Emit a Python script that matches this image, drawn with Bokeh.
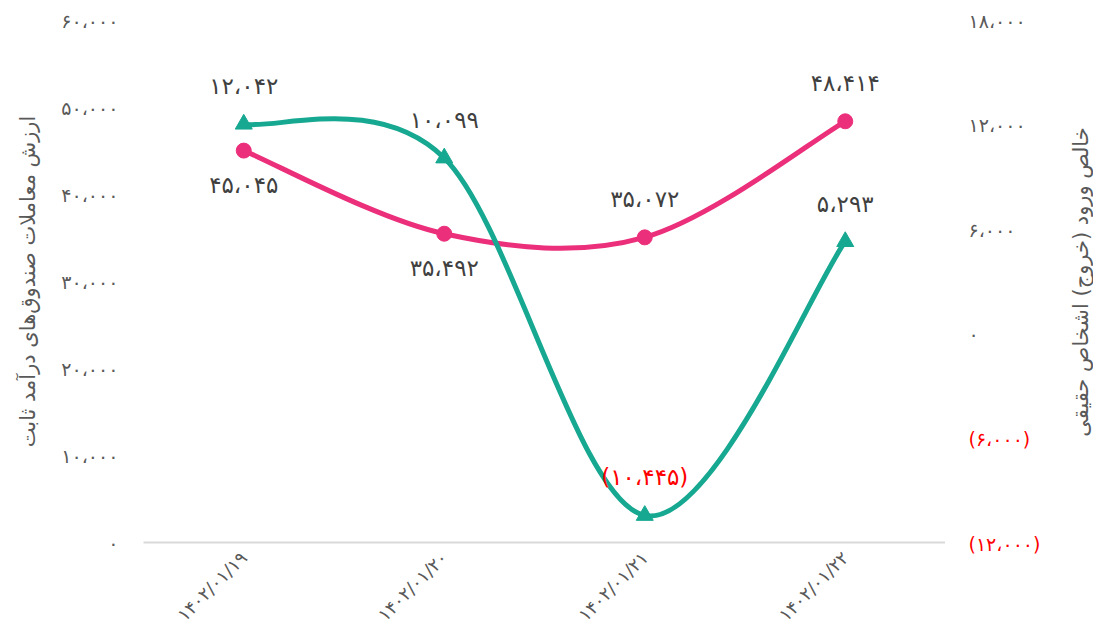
import math
from bokeh.plotting import figure
from bokeh.layouts import row
from bokeh.models import Range1d, FixedTicker, ColumnDataSource
from bokeh.core.properties import value
from bokeh.embed import file_html
from bokeh.resources import INLINE

# ---------------- data ----------------
categories = ["۱۴۰۲/۰۱/۱۹", "۱۴۰۲/۰۱/۲۰", "۱۴۰۲/۰۱/۲۱", "۱۴۰۲/۰۱/۲۲"]
value_traded = [45045, 35492, 35072, 48414]          # left axis (pink)
net_flow = [12042, 10099, -10445, 5293]              # right axis (teal)

left_ticks = [0, 10000, 20000, 30000, 40000, 50000, 60000]
left_tick_labels = ["۰", "۱۰،۰۰۰", "۲۰،۰۰۰", "۳۰،۰۰۰", "۴۰،۰۰۰", "۵۰،۰۰۰", "۶۰،۰۰۰"]
right_ticks = [-12000, -6000, 0, 6000, 12000, 18000]
right_tick_labels = ["(۱۲،۰۰۰)", "(۶،۰۰۰)", "۰", "۶،۰۰۰", "۱۲،۰۰۰", "۱۸،۰۰۰"]

left_title = "ارزش معاملات صندوق\u200cهای درآمد ثابت"
right_title = "خالص ورود (خروج) اشخاص حقیقی"

FA = str.maketrans("0123456789,", "۰۱۲۳۴۵۶۷۸۹،")


def fa_num(v):
    s = f"{abs(v):,}".translate(FA)
    return f"({s})" if v < 0 else s


FONT = "DejaVu Sans"
GRAY = "#595959"
DARK = "#404040"
PINK = "#EC2F7B"
TEAL = "#16A891"
RED = "#FF0000"
TICK_FS = "19px"

xs = [i + 0.5 for i in range(len(categories))]

# layout (pixels)
H, BT, BB = 635, 20, 92
W_MAIN, BL = 945, 143
W_SIDE = 148

p = figure(width=W_MAIN, height=H, x_range=Range1d(0, len(categories)),
           y_range=Range1d(left_ticks[0], left_ticks[-1]),
           output_backend="svg", toolbar_location=None,
           min_border_left=BL, min_border_right=0,
           min_border_top=BT, min_border_bottom=BB)
p.frame_align = False
p.extra_y_ranges = {"right": Range1d(right_ticks[0], right_ticks[-1])}
p.outline_line_color = None
p.xgrid.visible = False
p.ygrid.visible = False
p.background_fill_color = "white"
p.border_fill_color = "white"

# x axis
xa = p.xaxis[0]
xa.ticker = FixedTicker(ticks=xs)
xa.major_label_overrides = {x: c for x, c in zip(xs, categories)}
xa.major_label_orientation = math.pi / 4
xa.axis_line_color = "#D9D9D9"
xa.axis_line_width = 2
xa.major_tick_line_color = None
xa.major_tick_out = 0
xa.major_tick_in = 0
xa.minor_tick_line_color = None
xa.major_label_text_font = FONT
xa.major_label_text_font_size = "18px"
xa.major_label_text_color = GRAY
xa.major_label_standoff = 12

# left axis
ya = p.yaxis[0]
ya.ticker = FixedTicker(ticks=left_ticks)
ya.major_label_overrides = {t: l for t, l in zip(left_ticks, left_tick_labels)}
ya.axis_line_color = None
ya.major_tick_line_color = None
ya.major_tick_out = 0
ya.major_tick_in = 0
ya.minor_tick_line_color = None
ya.major_label_text_font = FONT
ya.major_label_text_font_size = TICK_FS
ya.major_label_text_color = GRAY
ya.major_label_standoff = 25
ya.axis_label = left_title
ya.axis_label_text_font = FONT
ya.axis_label_text_font_size = "21px"
ya.axis_label_text_font_style = "normal"
ya.axis_label_text_color = GRAY
ya.axis_label_standoff = 18


def smooth(xv, yv):
    n = len(xv)
    d = dict(x0=[], y0=[], x1=[], y1=[], cx0=[], cy0=[], cx1=[], cy1=[])
    for i in range(n - 1):
        a = i - 1 if i > 0 else i
        b = i + 2 if i + 2 < n else i + 1
        d["x0"].append(xv[i]); d["y0"].append(yv[i])
        d["x1"].append(xv[i + 1]); d["y1"].append(yv[i + 1])
        d["cx0"].append(xv[i] + (xv[i + 1] - xv[a]) / 6)
        d["cy0"].append(yv[i] + (yv[i + 1] - yv[a]) / 6)
        d["cx1"].append(xv[i + 1] - (xv[b] - xv[i]) / 6)
        d["cy1"].append(yv[i + 1] - (yv[b] - yv[i]) / 6)
    return ColumnDataSource(d)


# pink series (left axis)
p.bezier(x0="x0", y0="y0", x1="x1", y1="y1", cx0="cx0", cy0="cy0", cx1="cx1", cy1="cy1",
         source=smooth(xs, value_traded), line_color=PINK, line_width=5, line_cap="round")
p.scatter(xs, value_traded, marker="circle", size=15, fill_color=PINK, line_color=PINK)

# teal series (right axis)
p.bezier(x0="x0", y0="y0", x1="x1", y1="y1", cx0="cx0", cy0="cy0", cx1="cx1", cy1="cy1",
         source=smooth(xs, net_flow), line_color=TEAL, line_width=5, line_cap="round",
         y_range_name="right")
p.scatter(xs, net_flow, marker="triangle", size=17, fill_color=TEAL, line_color=TEAL,
          y_range_name="right")

# data labels
pink_pos = ["below", "below", "above", "above"]
pink_src = ColumnDataSource(dict(
    x=xs, y=value_traded, t=[fa_num(v) for v in value_traded],
    off=[34 if s == "below" else -38 for s in pink_pos]))
p.text(x="x", y="y", text="t", y_offset="off", source=pink_src,
       text_font=value(FONT), text_font_size="23px", text_color=DARK,
       text_align="center", text_baseline="middle")

teal_src = ColumnDataSource(dict(
    x=xs, y=net_flow, t=[fa_num(v) for v in net_flow],
    c=[RED if v < 0 else DARK for v in net_flow]))
p.text(x="x", y="y", text="t", y_offset=-38, source=teal_src, y_range_name="right",
       text_font=value(FONT), text_font_size="23px", text_color="c",
       text_align="center", text_baseline="middle")

# ---------------- right-hand axis panel ----------------
# same vertical scale as the main plot's "right" range, extended over the borders
r0, r1 = right_ticks[0], right_ticks[-1]
upp = (r1 - r0) / (H - BT - BB)               # data units per pixel
side = figure(width=W_SIDE, height=H, x_range=Range1d(0, W_SIDE),
              y_range=Range1d(r0 - BB * upp, r1 + BT * upp),
              output_backend="svg", toolbar_location=None,
              x_axis_location=None, y_axis_location=None,
              min_border_left=0, min_border_right=0,
              min_border_top=0, min_border_bottom=0)
side.frame_align = False
side.outline_line_color = None
side.xgrid.visible = False
side.ygrid.visible = False
side.background_fill_color = "white"
side.border_fill_color = "white"

tick_src = ColumnDataSource(dict(
    x=[23] * len(right_ticks), y=right_ticks, t=right_tick_labels,
    c=[RED if t < 0 else GRAY for t in right_ticks]))
side.text(x="x", y="y", text="t", source=tick_src, text_color="c",
          text_font=value(FONT), text_font_size=TICK_FS,
          text_align="left", text_baseline="middle")
side.text(x=[135], y=[(r0 + r1) / 2], text=[right_title], angle=math.pi / 2,
          text_font=value(FONT), text_font_size="21px", text_color=GRAY,
          text_align="center", text_baseline="middle")

layout = row(p, side, spacing=0)
open("out.html", "w").write(file_html(layout, INLINE))
